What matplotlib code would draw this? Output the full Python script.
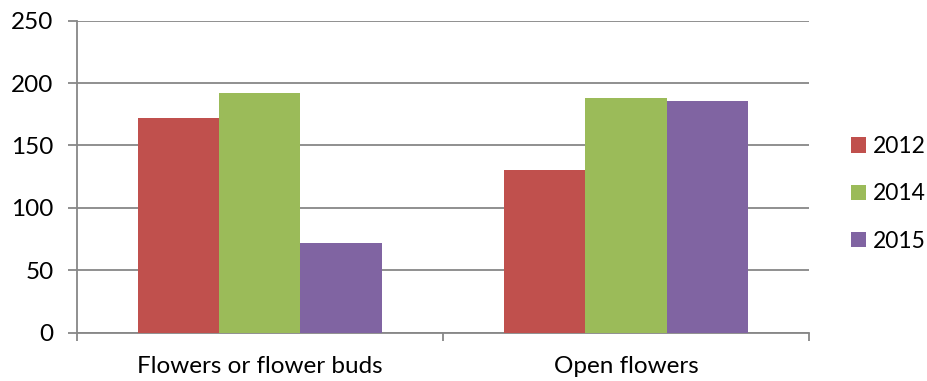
import matplotlib
matplotlib.use("Agg")
import matplotlib.pyplot as plt
import numpy as np

categories = ["Flowers or flower buds", "Open flowers"]
years = ["2012", "2014", "2015"]
values_2012 = [172, 130]
values_2014 = [192, 188]
values_2015 = [72, 186]
series = [values_2012, values_2014, values_2015]
colors = ["#C0504D", "#9BBB59", "#8064A2"]
y_ticks = [0, 50, 100, 150, 200, 250]

plt.rcParams["font.family"] = ["Lato", "DejaVu Sans"]
grid_color = "#878787"
fs = 17.5

fig = plt.figure(figsize=(9.28, 3.81), dpi=100)
ax = fig.add_axes([0.0826, 0.1268, 0.8718 - 0.0826, 0.9457 - 0.1268])

x = np.arange(len(categories))
width = 1 / 4.5
for i, (vals, col, yr) in enumerate(zip(series, colors, years)):
    ax.bar(x + (i - 1) * width, vals, width=width, color=col, label=yr,
           edgecolor="none", zorder=3)

ax.set_xlim(-0.5, len(categories) - 0.5)
ax.set_ylim(0, 250)
ax.set_yticks(y_ticks)
ax.yaxis.grid(True, color=grid_color, linewidth=1.3, zorder=0)
ax.set_axisbelow(True)

# category boundaries as major ticks, names as minor ticks
ax.set_xticks(np.arange(-0.5, len(categories), 1.0))
ax.set_xticklabels([])
ax.set_xticks(x, minor=True)
ax.set_xticklabels(categories, minor=True)
ax.tick_params(axis="x", which="major", length=6, width=1.3, color=grid_color, direction="out")
ax.tick_params(axis="x", which="minor", length=0, pad=17, labelsize=fs)
ax.tick_params(axis="y", length=6.5, width=1.3, color=grid_color, pad=10, labelsize=fs)

for side in ["top", "right"]:
    ax.spines[side].set_visible(False)
for side in ["left", "bottom"]:
    ax.spines[side].set_color(grid_color)
    ax.spines[side].set_linewidth(1.3)

leg = fig.legend(loc="center left", bbox_to_anchor=(0.917, 0.491), frameon=False,
                 fontsize=16.5, handlelength=0.66, handleheight=0.66,
                 handletextpad=0.3, labelspacing=1.15, borderaxespad=0, borderpad=0)

fig.savefig("out.png", dpi=100)
